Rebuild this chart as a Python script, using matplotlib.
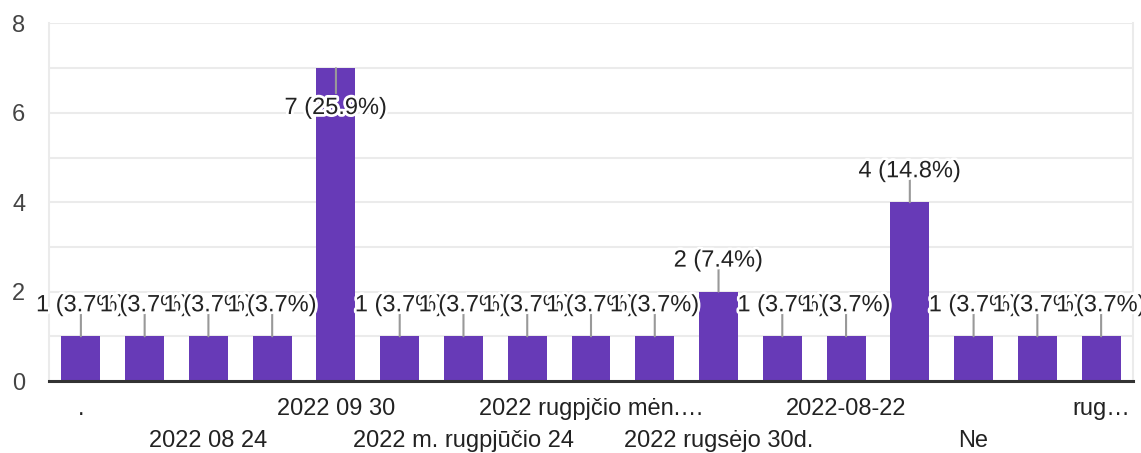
import matplotlib
matplotlib.use("Agg")
import matplotlib.pyplot as plt
import matplotlib.patheffects as pe
import numpy as np

plt.rcParams['font.family'] = ['Liberation Sans', 'DejaVu Sans']

# answers (only every other label is shown on the axis in the original)
categories = [".", "", "2022 08 24", "", "2022 09 30", "", "2022 m. rugpjūčio 24", "",
              "2022 rugpjčio mėn.…", "", "2022 rugsėjo 30d.", "", "2022-08-22", "",
              "Ne", "", "rug…"]
counts = [1, 1, 1, 1, 7, 1, 1, 1, 1, 1, 2, 1, 1, 4, 1, 1, 1]
percents = [3.7, 3.7, 3.7, 3.7, 25.9, 3.7, 3.7, 3.7, 3.7, 3.7, 7.4, 3.7, 3.7, 14.8, 3.7, 3.7, 3.7]

purple = '#673ab7'
grid_c = '#ebebeb'

fig = plt.figure(figsize=(11.41, 4.53), dpi=100)
ax = fig.add_axes([49/1141, 72/453, (1133-49)/1141, (381-23.5)/453])

x = np.arange(len(counts))
ax.bar(x, counts, width=0.61, color=purple, zorder=2)

ax.set_xlim(-0.5, len(counts) - 0.5)
ax.set_ylim(0, 8)
ax.set_yticks([0, 2, 4, 6, 8])
ax.set_yticks([1, 3, 5, 7], minor=True)
ax.grid(axis='y', which='both', color=grid_c, linewidth=1.5, zorder=0)
ax.tick_params(axis='y', which='both', length=0, pad=17, labelsize=17, labelcolor='#444444')

# x labels in two staggered rows
top_idx = [i for i in x if i % 4 == 0]
bot_idx = [i for i in x if i % 4 == 2]
ax.set_xticks(top_idx)
ax.set_xticklabels([categories[i] for i in top_idx])
ax.set_xticks(bot_idx, minor=True)
ax.set_xticklabels([categories[i] for i in bot_idx], minor=True)
ax.tick_params(axis='x', which='major', length=0, pad=12, labelsize=17, labelcolor='#222222')
ax.tick_params(axis='x', which='minor', length=0, pad=35, labelsize=17, labelcolor='#222222')

for s in ['left', 'right', 'top']:
    ax.spines[s].set_color(grid_c)
    ax.spines[s].set_linewidth(1.5)
ax.spines['top'].set_visible(False)
ax.spines['bottom'].set_color('#333333')
ax.spines['bottom'].set_linewidth(2.2)
ax.spines['bottom'].set_zorder(3)

# value labels with leader lines
stroke = [pe.withStroke(linewidth=4, foreground='white')]
for xi, c, p in zip(x, counts, percents):
    inside = c > 0.8 * ax.get_ylim()[1]
    dy = -18 if inside else 18
    ax.annotate('', xy=(xi, c), xytext=(0, dy), textcoords='offset points',
                arrowprops=dict(arrowstyle='-', color='#999999', lw=1.5,
                                shrinkA=0, shrinkB=0), zorder=3)
    ax.annotate(f'{c} ({p}%)', xy=(xi, c), xytext=(0, -33 if inside else 18),
                textcoords='offset points', ha='center', va='baseline',
                fontsize=17, color='#222222', path_effects=stroke, zorder=4,
                annotation_clip=False)

fig.savefig('out.png', dpi=100)
